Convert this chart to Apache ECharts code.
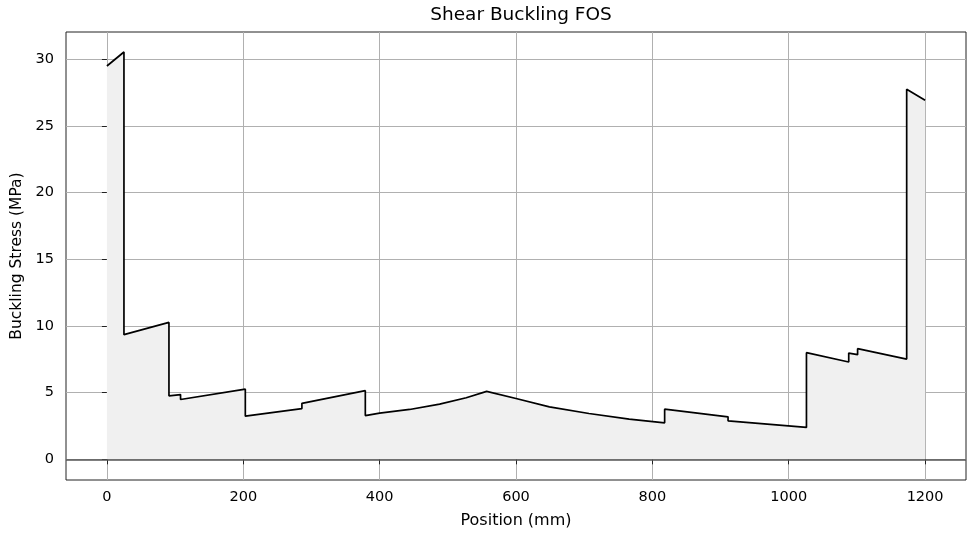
<!DOCTYPE html>
<html>
<head>
<meta charset="utf-8">
<script src="https://cdn.jsdelivr.net/npm/echarts@6/dist/echarts.min.js"></script>
<style>
  html, body { margin: 0; padding: 0; background: #fff; }
  #chart { width: 973px; height: 536px; }
</style>
</head>
<body>
<div id="chart"></div>
<script>
// position along the beam (mm) and buckling stress (MPa)
const position = [0, 25, 25, 91, 91, 108, 108, 203, 203, 286, 286, 379, 379, 400, 444, 488, 527, 557,
  600, 649, 707, 766, 818, 818, 911, 911, 1026, 1026, 1088, 1088, 1101, 1101, 1173, 1173, 1200]
const stress = [29.5, 30.55, 9.35, 10.27, 4.76, 4.86, 4.49, 5.26, 3.24, 3.81, 4.2, 5.15, 3.28, 3.47, 3.74, 4.14, 4.62, 5.1,
  4.56, 3.93, 3.44, 3.01, 2.74, 3.76, 3.19, 2.89, 2.39, 8.0, 7.3, 7.97, 7.85, 8.3, 7.52, 27.75, 26.93]

const xTicks = [0, 200, 400, 600, 800, 1000, 1200]
const yTicks = [0, 5, 10, 15, 20, 25, 30]

const font = 'DejaVu Sans'
const points = position.map((p, i) => [p, stress[i]])

const chart = echarts.init(document.getElementById('chart'))

const option = {
  animation: false,
  title: {
    text: 'Shear Buckling FOS',
    left: 516,
    textAlign: 'center',
    top: 1,
    textStyle: { fontFamily: font, fontSize: 18.5, fontWeight: 'normal', color: '#000' }
  },
  grid: {
    left: 66,
    right: 7,
    top: 32,
    bottom: 56,
    show: true,
    borderColor: '#222',
    borderWidth: 1
  },
  xAxis: {
    type: 'value',
    min: -60,
    max: 1260,
    name: 'Position (mm)',
    nameLocation: 'middle',
    nameGap: 33,
    nameTextStyle: { fontFamily: font, fontSize: 16, color: '#000' },
    axisLine: { show: false },
    axisTick: { show: true, customValues: xTicks, length: 5, lineStyle: { color: '#222' } },
    axisLabel: {
      customValues: xTicks,
      formatter: v => String(v),
      fontFamily: font,
      fontSize: 14.5,
      color: '#000',
      margin: 10
    },
    splitLine: { show: true, lineStyle: { color: '#b0b0b0', width: 1 } }
  },
  yAxis: {
    type: 'value',
    min: -1.55,
    max: 32.05,
    name: 'Buckling Stress (MPa)',
    nameLocation: 'middle',
    nameGap: 40,
    nameTextStyle: { fontFamily: font, fontSize: 15.5, color: '#000' },
    axisLine: { show: false },
    axisTick: { show: true, customValues: yTicks, length: 5, lineStyle: { color: '#222' } },
    axisLabel: {
      customValues: yTicks,
      formatter: v => String(v),
      fontFamily: font,
      fontSize: 14.5,
      color: '#000',
      margin: 12
    },
    splitLine: { show: true, lineStyle: { color: '#b0b0b0', width: 1 } }
  },
  series: [{
    type: 'line',
    data: points,
    showSymbol: false,
    lineStyle: { color: '#000', width: 1.7 },
    areaStyle: { color: '#f0f0f0', opacity: 1, origin: 0 },
    z: 3,
    markLine: {
      silent: true,
      symbol: 'none',
      label: { show: false },
      lineStyle: { color: '#555', width: 1.5, type: 'solid' },
      data: [{ yAxis: 0 }]
    }
  }]
}

chart.setOption(option)
</script>
</body>
</html>
